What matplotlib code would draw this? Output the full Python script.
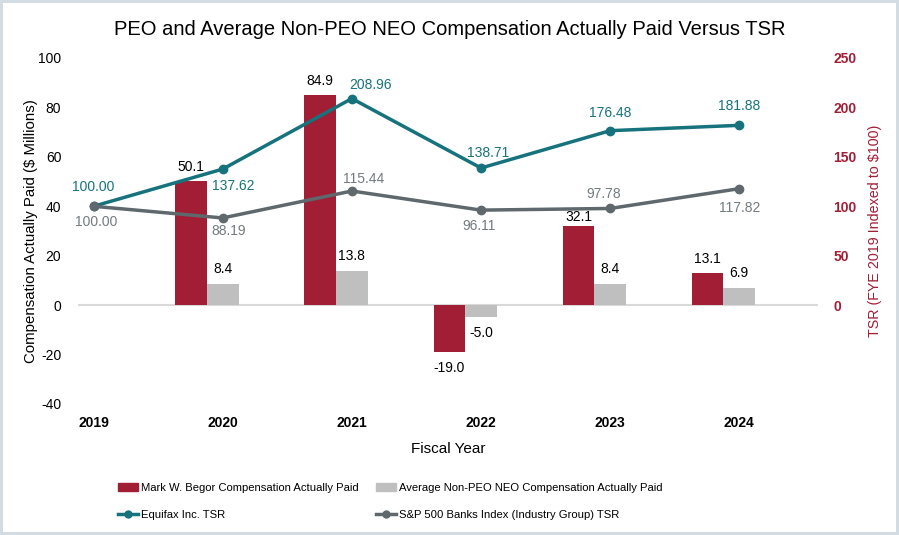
import matplotlib
matplotlib.use('Agg')
from matplotlib import pyplot as plt
from matplotlib.lines import Line2D
from matplotlib.patches import Patch

plt.rcParams['font.family'] = ['Liberation Sans', 'DejaVu Sans']
plt.rcParams['axes.unicode_minus'] = False

YEARS = ['2019', '2020', '2021', '2022', '2023', '2024']
PEO_CAP = [None, 50.1, 84.9, -19.0, 32.1, 13.1]
NEO_CAP = [None, 8.4, 13.8, -5.0, 8.4, 6.9]
EFX_TSR = [100.00, 137.62, 208.96, 138.71, 176.48, 181.88]
BANK_TSR = [100.00, 88.19, 115.44, 96.11, 97.78, 117.82]

RED = '#A21E35'
GREY_BAR = '#BFBFBF'
TEAL = '#16727D'
SLATE = '#5E686D'


def _bar_label(ax, xc, val, up=15):
    if val >= 0:
        off = (0, up)
    else:
        off = (0, -16)
    ax.annotate('{:.1f}'.format(val), (xc, val), xytext=off,
                textcoords='offset pixels', ha='center', va='center',
                fontsize=10)


def main():

    fig = plt.figure(figsize=(8.99, 5.35), dpi=100)
    fig.patch.set_edgecolor('#D3DCE3')
    fig.patch.set_linewidth(3)
    ax = fig.add_axes([0.0868, 0.2449, 0.8232, 0.6467])
    ax2 = ax.twinx()

    x = list(range(len(YEARS)))
    w = 0.245
    for i in x:
        if PEO_CAP[i] is None:
            continue
        ax.bar(i - w, PEO_CAP[i], w, color=RED, zorder=2)
        ax.bar(i, NEO_CAP[i], w, color=GREY_BAR, zorder=2)
        # 32.1 sits right under the index line, so it hugs the bar
        _bar_label(ax, i - w, PEO_CAP[i], up=9 if i == 4 else 14)
        _bar_label(ax, i, NEO_CAP[i])

    ax.axhline(0, color='#D9D9D9', lw=1.5, zorder=1)
    ax.set_xlim(-0.12, 5.61)
    ax.set_ylim(-40, 100)
    ax.set_yticks(range(-40, 101, 20))
    ax.set_xticks(x)
    ax.set_xticklabels(YEARS, fontweight='bold', fontsize=10)
    ax.tick_params(axis='x', length=0, pad=9)
    ax.tick_params(axis='y', length=0, labelsize=10, pad=12)
    ax.set_xlabel('Fiscal Year', fontsize=11, labelpad=8)
    ax.set_ylabel('Compensation Actually Paid ($ Millions)', fontsize=10.8,
                  labelpad=0)
    for s in ax.spines.values():
        s.set_visible(False)

    ax2.plot(x, EFX_TSR, color=TEAL, lw=2.5, marker='o', ms=6, zorder=3)
    ax2.plot(x, BANK_TSR, color=SLATE, lw=2.5, marker='o', ms=6, zorder=3)
    ax2.set_ylim(-100, 250)
    ax2.set_yticks(range(0, 251, 50))
    ax2.tick_params(axis='y', length=0, labelsize=10, labelcolor=RED,
                    pad=11)
    for lab in ax2.get_yticklabels():
        lab.set_fontweight('bold')
    ax2.set_ylabel('TSR (FYE 2019 Indexed to $100)', color=RED, fontsize=10.3,
                   labelpad=8)
    for s in ax2.spines.values():
        s.set_visible(False)

    # label offsets (pixels) for each TSR value
    efx_off = [(0, 19), (11, -17), (19, 14), (7, 15), (0, 18), (0, 19)]
    bank_off = [(3, -16), (6, -13), (12, 12), (-2, -16), (-6, 14), (0, -19)]
    for i in x:
        ax2.annotate('{:.2f}'.format(EFX_TSR[i]), (i, EFX_TSR[i]),
                     xytext=efx_off[i], textcoords='offset pixels',
                     ha='center', va='center', color=TEAL, fontsize=10)
        ax2.annotate('{:.2f}'.format(BANK_TSR[i]), (i, BANK_TSR[i]),
                     xytext=bank_off[i], textcoords='offset pixels',
                     ha='center', va='center', color='#727B80', fontsize=10)

    fig.suptitle('PEO and Average Non-PEO NEO Compensation Actually Paid '
                 'Versus TSR', y=0.962, fontsize=14.5)

    col1 = [
        Patch(color=RED, label='Mark W. Begor Compensation Actually Paid'),
        Line2D([], [], color=TEAL, lw=2.5, marker='o', ms=5,
               label='Equifax Inc. TSR'),
    ]
    col2 = [
        Patch(color=GREY_BAR,
              label='Average Non-PEO NEO Compensation Actually Paid'),
        Line2D([], [], color=SLATE, lw=2.5, marker='o', ms=5,
               label='S&P 500 Banks Index (Industry Group) TSR'),
    ]
    for hs, x0 in [(col1, 0.131), (col2, 0.418)]:
        fig.legend(handles=hs, loc='center left', bbox_to_anchor=(x0, 0.063),
                   frameon=False, fontsize=8.1, borderpad=0, borderaxespad=0,
                   handlelength=1.8, handletextpad=0.3, labelspacing=1.5)

    fig.savefig('out.png', dpi=100, edgecolor=fig.get_edgecolor())


if __name__ == '__main__':

    main()
